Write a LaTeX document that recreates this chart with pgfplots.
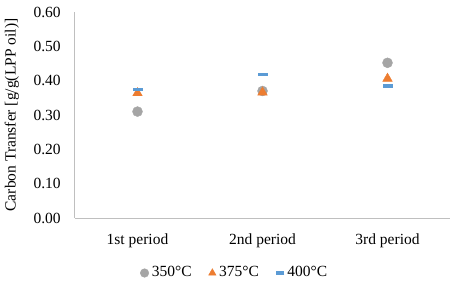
\documentclass[border=0pt]{standalone}
\usepackage{pgfplots}
\pgfplotsset{compat=1.18}
\usepackage{fontspec}
\setmainfont{Liberation Serif}
\definecolor{cgray}{RGB}{165,165,165}
\definecolor{corange}{RGB}{237,125,49}
\definecolor{cblue}{RGB}{91,155,213}
\definecolor{caxis}{RGB}{191,191,191}
\begin{document}
\fontsize{15.5}{18}\selectfont
\begin{tikzpicture}
\useasboundingbox (-75pt,-64pt) rectangle (379pt,218pt);
\begin{axis}[
  at={(0pt,0pt)}, anchor=south west,
  scale only axis,
  width=375pt, height=206pt,
  xmin=-0.5, xmax=2.5,
  ymin=0, ymax=0.6,
  ytick={0,0.1,...,0.6},
  xtick={0,1,2},
  xticklabels={1st period,2nd period,3rd period},
  axis x line*=bottom, axis y line*=left,
  axis line style={caxis, line width=1pt, -},
  major tick length=0pt,
  /pgf/number format/assume math mode=true,
  /pgf/number format/fixed, /pgf/number format/fixed zerofill, /pgf/number format/precision=2,
  yticklabel style={font=\fontsize{15.5}{18}\selectfont, xshift=-9pt},
  xticklabel style={font=\fontsize{15.5}{18}\selectfont, yshift=-10pt},
  ylabel={Carbon Transfer [g/g(LPP oil)]},
  ylabel style={font=\fontsize{15.5}{18}\selectfont},
  every axis y label/.style={at={(ticklabel cs:0.5)}, rotate=90, anchor=south, yshift=4pt},
  legend columns=3,
  legend image post style={mark size=4.3pt},
  legend style={draw=none, at={(0.426,-0.267)}, anchor=center, font=\fontsize{15.5}{18}\selectfont,
    /tikz/every odd column/.append style={column sep=1pt},
    /tikz/every even column/.append style={column sep=15pt}},
  legend cell align=left,
]
\addplot[only marks, mark=*, mark size=5pt, color=cgray, mark options={fill=cgray, draw=cgray}]
  coordinates {(0,0.31) (1,0.37) (2,0.452)};
\addlegendentry{350°C}
\addplot[only marks, mark=triangle*, mark size=5.5pt, color=corange, mark options={fill=corange, draw=corange}]
  coordinates {(0,0.364) (1,0.366) (2,0.406)};
\addlegendentry{375°C}
\addplot[only marks, mark=-, mark size=5pt, color=cblue, mark options={line width=3.5pt, line cap=butt}]
  coordinates {(0,0.375) (1,0.418) (2,0.384)};
\addlegendentry{400°C}
\end{axis}
\end{tikzpicture}
\end{document}
